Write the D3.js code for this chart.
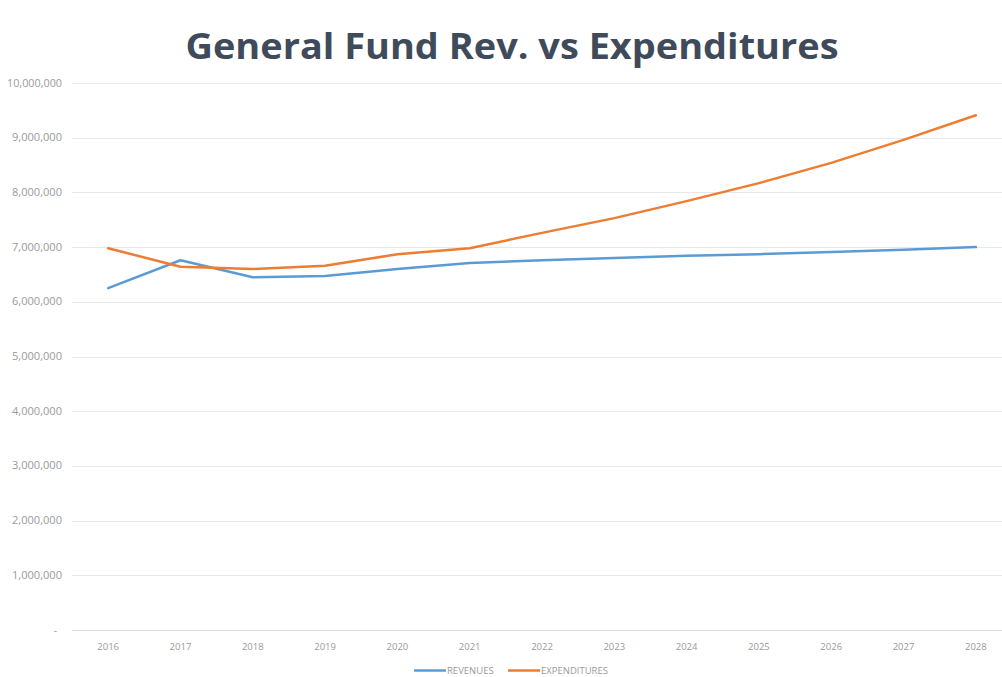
<!DOCTYPE html>
<html>
<head>
<meta charset="utf-8">
<script src="https://cdn.jsdelivr.net/npm/d3@7"></script>
<style>
  body { margin: 0; background: #fff; }
  svg { display: block; }
</style>
</head>
<body>
<div id="chart"></div>
<script>
// chart data
var years = ["2016", "2017", "2018", "2019", "2020", "2021", "2022",
             "2023", "2024", "2025", "2026", "2027", "2028"];
var revenues = [6250000, 6760000, 6450000, 6470000, 6600000, 6710000, 6760000,
                6800000, 6840000, 6870000, 6910000, 6950000, 7000000];
var expenditures = [6980000, 6640000, 6600000, 6660000, 6870000, 6980000, 7260000,
                    7530000, 7840000, 8170000, 8540000, 8960000, 9410000];
var yTicks = [0, 1000000, 2000000, 3000000, 4000000, 5000000,
              6000000, 7000000, 8000000, 9000000, 10000000];
var seriesNames = ["REVENUES", "EXPENDITURES"];
var seriesColors = ["#5b9bd5", "#ed7d31"];

var width = 1002, height = 677;
var margin = {top: 83, right: -10, bottom: 47, left: 72};
var labelFont = "'Open Sans', sans-serif";

var svg = d3.select("#chart")
    .append("svg")
    .attr("width", width)
    .attr("height", height);

svg.append("rect")
    .attr("width", width)
    .attr("height", height)
    .attr("fill", "#fff");

// title
svg.append("text")
    .attr("x", 512)
    .attr("y", 59)
    .attr("text-anchor", "middle")
    .attr("textLength", 653)
    .attr("lengthAdjust", "spacingAndGlyphs")
    .style("font-family", "'Open Sans', sans-serif")
    .style("font-weight", "700")
    .style("font-size", "36px")
    .attr("fill", "#3f4b5a")
    .text("General Fund Rev. vs Expenditures");

var xScale = d3.scalePoint()
    .domain(years)
    .range([margin.left, width - margin.right])
    .padding(0.5);

var yScale = d3.scaleLinear()
    .domain([0, 10000000])
    .range([height - margin.bottom, margin.top]);

// gridlines
svg.append("g")
    .selectAll("line")
    .data(yTicks)
    .enter()
    .append("line")
    .attr("x1", margin.left)
    .attr("x2", width)
    .attr("y1", d => Math.round(yScale(d)) + 0.5)
    .attr("y2", d => Math.round(yScale(d)) + 0.5)
    .attr("stroke", d => d == 0 ? "#d9d9d9" : "#e8e8e8")
    .attr("stroke-width", 1);

// y labels (accounting style, zero as a dash)
var fmt = d3.format(",");
svg.append("g")
    .selectAll("text")
    .data(yTicks)
    .enter()
    .append("text")
    .attr("x", d => d == 0 ? 57 : 62)
    .attr("y", d => yScale(d) + 3.5)
    .attr("text-anchor", "end")
    .style("font-family", labelFont)
    .style("font-size", "10px")
    .attr("textLength", d => d == 0 ? null : (d >= 10000000 ? 55 : 50))
    .attr("lengthAdjust", "spacingAndGlyphs")
    .attr("fill", "#9a9a9a")
    .text(d => d == 0 ? "-" : fmt(d));

// x labels
svg.append("g")
    .selectAll("text")
    .data(years)
    .enter()
    .append("text")
    .attr("x", d => xScale(d))
    .attr("y", 650)
    .attr("text-anchor", "middle")
    .style("font-family", labelFont)
    .style("font-size", "9.5px")
    .attr("fill", "#9a9a9a")
    .text(d => d);

var line = d3.line()
    .x((d, i) => xScale(years[i]))
    .y(d => yScale(d));

[revenues, expenditures].forEach(function(vals, i) {
    svg.append("path")
        .datum(vals)
        .attr("d", line)
        .attr("fill", "none")
        .attr("stroke", seriesColors[i])
        .attr("stroke-width", 2.5)
        .attr("stroke-linejoin", "round")
        .attr("stroke-linecap", "round");
});

// legend
var legendX = [414, 508];
var legend = svg.append("g")
    .selectAll("g")
    .data(seriesNames)
    .enter()
    .append("g")
    .attr("transform", (d, i) => "translate(" + legendX[i] + ",670.5)");

legend.append("line")
    .attr("x1", 0)
    .attr("x2", 32)
    .attr("stroke", (d, i) => seriesColors[i])
    .attr("stroke-width", 2.5);

legend.append("text")
    .attr("x", 33)
    .attr("y", 3.5)
    .style("font-family", labelFont)
    .style("font-size", "9.5px")
    .attr("fill", "#9a9a9a")
    .text(d => d);
</script>
</body>
</html>
